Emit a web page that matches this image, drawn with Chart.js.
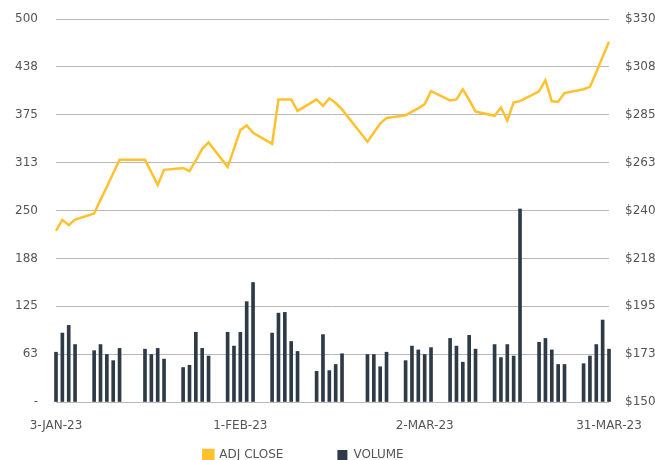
<!DOCTYPE html>
<html>
<head>
<meta charset="utf-8">
<script src="https://cdn.jsdelivr.net/npm/chart.js@4"></script>
<style>
  html, body { margin: 0; padding: 0; background: #fff; }
  #wrap { width: 655px; height: 460px; position: relative; }
</style>
</head>
<body>
<div id="wrap"><canvas id="myChart"></canvas></div>
<script>
// Datos
const tradeDates = [
  '01-03','01-04','01-05','01-06','01-09','01-10','01-11','01-12','01-13',
  '01-17','01-18','01-19','01-20','01-23','01-24','01-25','01-26','01-27','01-30','01-31',
  '02-01','02-02','02-03','02-06','02-07','02-08','02-09','02-10','02-13','02-14','02-15','02-16','02-17',
  '02-21','02-22','02-23','02-24','02-27','02-28',
  '03-01','03-02','03-03','03-06','03-07','03-08','03-09','03-10','03-13','03-14','03-15','03-16','03-17',
  '03-20','03-21','03-22','03-23','03-24','03-27','03-28','03-29','03-30','03-31'
];
const adjClose = [
  230.4, 235.6, 233.1, 235.7, 238.6, 245.0, 251.2, 257.5, 263.8,
  263.8, 258.0, 252.0, 259.1, 260.0, 258.5, 263.5, 269.0, 272.0, 260.5, 269.0,
  277.8, 280.0, 276.5, 271.3, 292.2, 292.2, 292.2, 286.8, 292.2, 289.2, 292.7, 290.5, 287.5,
  272.3, 276.5, 280.9, 283.5, 284.7, 286.5,
  288.0, 290.0, 296.1, 291.7, 292.2, 296.9, 292.0, 286.5, 284.5, 288.4, 282.3, 290.8, 291.4,
  296.0, 301.3, 291.3, 291.1, 295.2, 297.0, 298.1, 305.0, 312.2, 319.3
];
const volume = [
  65, 90, 100, 75, 67, 75, 62, 54, 70,
  69, 62, 70, 56, 45, 48, 91, 70, 60, 91, 73,
  91, 131, 156, 90, 116, 117, 79, 66, 40, 88, 41, 49, 63,
  62, 62, 46, 65, 54, 73,
  68, 62, 71, 83, 73, 52, 87, 69, 75, 58, 75, 60, 252,
  78, 83, 68, 49, 49, 50, 60, 75, 107, 69
];
const tickDates = ['01-03', '02-01', '03-02', '03-31'];
const tickLabels = ['3-JAN-23', '1-FEB-23', '2-MAR-23', '31-MAR-23'];
const volumeTicks = ['-', '63', '125', '188', '250', '313', '375', '438', '500'];
const priceTicks = ['$150', '$173', '$195', '$218', '$240', '$263', '$285', '$308', '$330'];

// todos los dias del calendario (fines de semana quedan vacios)
const days = [];
for (let d = new Date(Date.UTC(2023, 0, 3)); d <= new Date(Date.UTC(2023, 2, 31)); d.setUTCDate(d.getUTCDate() + 1)) {
  days.push(d.toISOString().slice(5, 10));
}
const closeData = days.map(k => { const i = tradeDates.indexOf(k); return i < 0 ? null : adjClose[i]; });
const volData = days.map(k => { const i = tradeDates.indexOf(k); return i < 0 ? null : volume[i]; });

const font = { family: 'DejaVu Sans', size: 12 };
const txt = '#555555';
const gridColor = '#b9b9b9';

// leyenda: alto fijo y posicion a mano (el padding grande separa los items)
const legendPos = {
  id: 'legendPos',
  beforeLayout(chart) {
    const lg = chart.legend;
    if (lg && !lg._patched) {
      const fit = lg.fit;
      lg.fit = function () { fit.call(this); this.height = 20; };
      lg._patched = true;
    }
  },
  afterLayout(chart) {
    const lg = chart.legend;
    lg.top = 395;
    lg.left -= 24;
    lg.right -= 24;
  }
};

// ancho fijo del eje y sin margen extra arriba/abajo
const fixY = w => s => { s.width = w; s.paddingTop = 0; s.paddingBottom = 0; };

const ctx = document.getElementById('myChart');
new Chart(ctx, {
  data: {
    labels: days,
    datasets: [{
      type: 'line',
      label: 'ADJ CLOSE',
      data: closeData,
      yAxisID: 'y1',
      borderColor: '#FFC12E',
      backgroundColor: '#FFC12E',
      borderWidth: 2.5,
      pointRadius: 0,
      tension: 0,
      spanGaps: true,
      order: 0
    }, {
      type: 'bar',
      label: 'VOLUME',
      data: volData,
      yAxisID: 'y',
      backgroundColor: '#2E3B46',
      barThickness: 3,
      clip: false,
      order: 1
    }]
  },
  options: {
    responsive: true,
    maintainAspectRatio: false,
    animation: false,
    layout: { padding: { top: 19, left: 0, right: 0, bottom: 0 } },
    plugins: {
      tooltip: { enabled: false },
      legend: {
        position: 'bottom',
        labels: { boxWidth: 10, boxHeight: 10, padding: 54, color: txt, font: font }
      }
    },
    scales: {
      x: {
        offset: false,
        grid: { display: false },
        border: { display: false },
        afterFit: s => { s.height = 38; },
        ticks: {
          autoSkip: false,
          maxRotation: 0,
          padding: 9,
          color: txt,
          font: font,
          callback: function (v, i) {
            const j = tickDates.indexOf(days[i]);
            return j < 0 ? null : tickLabels[j];
          }
        }
      },
      y: {
        position: 'left',
        min: 0,
        max: 500,
        afterFit: fixY(56),
        grid: { color: gridColor, drawTicks: false },
        border: { display: false },
        ticks: {
          stepSize: 62.5,
          padding: 18,
          color: txt,
          font: font,
          callback: (v, i) => volumeTicks[i]
        }
      },
      y1: {
        position: 'right',
        min: 150,
        max: 330,
        afterFit: fixY(46),
        grid: { drawOnChartArea: false, drawTicks: false },
        border: { display: false },
        ticks: {
          stepSize: 22.5,
          padding: 16,
          color: txt,
          font: font,
          callback: (v, i) => priceTicks[i]
        }
      }
    }
  },
  plugins: [legendPos]
});
</script>
</body>
</html>
